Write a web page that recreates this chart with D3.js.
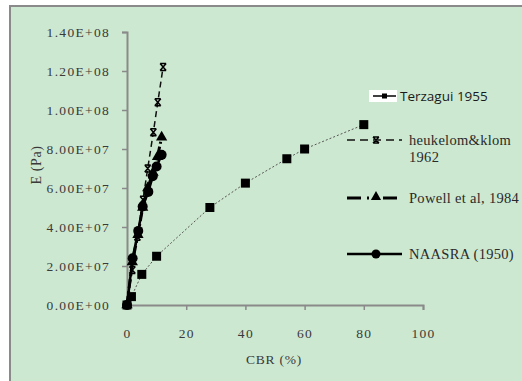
<!DOCTYPE html>
<html>
<head>
<meta charset="utf-8">
<script src="https://cdn.jsdelivr.net/npm/d3@7"></script>
<style>
  body { margin: 0; background: #fff; }
  svg { display: block; }
</style>
</head>
<body>
<svg id="chart" width="522" height="381"></svg>
<script>
// values
const terzaghiCbr = [0, 1.5, 5, 10, 28, 40, 54, 60, 80];
const terzaghiE = [0, 4.3e6, 1.57e7, 2.5e7, 5.0e7, 6.25e7, 7.5e7, 8.0e7, 9.25e7];
const heukelomCbr = [0, 1.8, 3.5, 5.4, 7.0, 8.9, 10.4, 12.2];
const heukelomE = [0, 1.8e7, 3.5e7, 5.4e7, 7.0e7, 8.86e7, 1.04e8, 1.22e8];
const powellCbr = [0, 1.8, 3.7, 5.3, 7.0, 8.8, 10.3, 11.7];
const powellE = [0, 2.2e7, 3.6e7, 5.0e7, 6.0e7, 6.8e7, 7.6e7, 8.6e7];
const naasraCbr = [0, 1.9, 3.8, 5.3, 7.2, 8.7, 10.0, 11.7];
const naasraE = [0, 2.4e7, 3.8e7, 5.05e7, 5.8e7, 6.6e7, 7.1e7, 7.7e7];
const xTicks = [0, 20, 40, 60, 80, 100];
const yTicks = [0, 2e7, 4e7, 6e7, 8e7, 1e8, 1.2e8, 1.4e8];
const seriesNames = ['Terzagui 1955', 'heukelom&klom|1962', 'Powell et al, 1984', 'NAASRA (1950)'];

const svg = d3.select('#chart');
const serif = "'Liberation Serif', 'Times New Roman', serif";
const sans = "'Open Sans', 'Liberation Sans', sans-serif";

// frame
svg.append('rect').attr('x', 10).attr('y', 6).attr('width', 530).attr('height', 400)
  .attr('fill', '#cde8d0').attr('stroke', '#8a8a8a').attr('stroke-width', 2);

const x = d3.scaleLinear().domain([0, 100]).range([127, 423]);
const y = d3.scaleLinear().domain([0, 1.4e8]).range([305, 32]);

function sci(d) {
  if (d === 0) return '0.00E+00';
  const e = Math.floor(Math.log10(d) + 1e-9);
  return (d / Math.pow(10, e)).toFixed(2) + 'E+' + String(e).padStart(2, '0');
}

const yAxis = svg.append('g').attr('transform', 'translate(127,0)')
  .call(d3.axisLeft(y).tickValues(yTicks).tickFormat(sci).tickSize(5).tickPadding(12));
const xAxis = svg.append('g').attr('transform', 'translate(0,305)')
  .call(d3.axisBottom(x).tickValues(xTicks).tickSize(5).tickPadding(18));

[yAxis, xAxis].forEach(function(a) {
  a.select('.domain').attr('stroke', '#8a8a8a').attr('stroke-width', 2);
  a.selectAll('.tick line').attr('stroke', '#8a8a8a').attr('stroke-width', 1.5);
  a.selectAll('.tick text').attr('fill', '#3a3a3a').attr('font-family', serif)
    .attr('font-size', 13.5).style('letter-spacing', '1.3px');
});

svg.append('text').attr('transform', 'translate(41,165) rotate(-90)')
  .attr('text-anchor', 'middle').attr('font-family', serif).attr('font-size', 14)
  .attr('fill', '#3a3a3a').style('letter-spacing', '0.6px').text('E (Pa)');
svg.append('text').attr('x', 274).attr('y', 364)
  .attr('text-anchor', 'middle').attr('font-family', serif).attr('font-size', 13.5)
  .attr('fill', '#3a3a3a').style('letter-spacing', '0.8px').text('CBR (%)');

function pts(xs, ys) { return xs.map(function(v, i) { return [v, ys[i]]; }); }
const line = d3.line().x(function(d) { return x(d[0]); }).y(function(d) { return y(d[1]); });

const xMark = 'M-3,-3.5L3,3.5M3,-3.5L-3,3.5M-3,-3.5H3M-3,3.5H3';

// Terzagui
const tz = pts(terzaghiCbr, terzaghiE);
svg.append('path').datum(tz).attr('d', line).attr('fill', 'none')
  .attr('stroke', '#555').attr('stroke-width', 1).attr('stroke-dasharray', '2,2');
svg.append('g').selectAll('rect').data(tz).enter().append('rect')
  .attr('x', function(d) { return x(d[0]) - 4.5; })
  .attr('y', function(d) { return y(d[1]) - 4.5; })
  .attr('width', 9).attr('height', 9).attr('fill', '#000');

// heukelom & klom
const hk = pts(heukelomCbr, heukelomE);
svg.append('path').datum(hk).attr('d', line).attr('fill', 'none')
  .attr('stroke', '#111').attr('stroke-width', 1.5).attr('stroke-dasharray', '6,4');
svg.append('g').selectAll('path').data(hk).enter().append('path')
  .attr('transform', function(d) { return `translate(${x(d[0])},${y(d[1])})`; })
  .attr('d', xMark).attr('fill', 'none').attr('stroke', '#000').attr('stroke-width', 1.5);

// Powell
const pw = pts(powellCbr, powellE);
svg.append('path').datum(pw).attr('d', line).attr('fill', 'none')
  .attr('stroke', '#000').attr('stroke-width', 3).attr('stroke-dasharray', '9,3,2,3');
svg.append('g').selectAll('path').data(pw).enter().append('path')
  .attr('transform', function(d) { return `translate(${x(d[0])},${y(d[1])})`; })
  .attr('d', d3.symbol().type(d3.symbolTriangle).size(55)).attr('fill', '#000');

// NAASRA
const na = pts(naasraCbr, naasraE);
svg.append('path').datum(na).attr('d', line).attr('fill', 'none')
  .attr('stroke', '#000').attr('stroke-width', 2.5);
svg.append('g').selectAll('circle').data(na).enter().append('circle')
  .attr('cx', function(d) { return x(d[0]); })
  .attr('cy', function(d) { return y(d[1]); })
  .attr('r', 5).attr('fill', '#000');

// legend
const legend = svg.append('g');
legend.append('rect').attr('x', 369).attr('y', 90).attr('width', 28).attr('height', 12).attr('fill', '#fff');
legend.append('line').attr('x1', 373).attr('x2', 396).attr('y1', 96).attr('y2', 96)
  .attr('stroke', '#000').attr('stroke-width', 1.5);
legend.append('rect').attr('x', 382).attr('y', 93.5).attr('width', 5).attr('height', 5).attr('fill', '#000');
legend.append('text').attr('x', 400).attr('y', 101).attr('font-family', sans).attr('font-size', 13.5)
  .attr('fill', '#1a1a1a').text(seriesNames[0]);

legend.append('line').attr('x1', 347).attr('x2', 402).attr('y1', 140).attr('y2', 140)
  .attr('stroke', '#111').attr('stroke-width', 1.5).attr('stroke-dasharray', '8,5');
legend.append('path').attr('transform', 'translate(376,140)').attr('d', 'M-3,-3L3,3M3,-3L-3,3M-3,-3H3M-3,3H3')
  .attr('fill', 'none').attr('stroke', '#000').attr('stroke-width', 1.5);
const hkText = legend.append('text').attr('x', 409).attr('y', 145).attr('font-family', serif)
  .attr('font-size', 14.5).attr('fill', '#2a2a2a').style('letter-spacing', '0.3px');
seriesNames[1].split('|').forEach(function(s, i) {
  hkText.append('tspan').attr('x', 409).attr('dy', i ? 17 : 0).text(s);
});

legend.append('line').attr('x1', 347).attr('x2', 402).attr('y1', 198).attr('y2', 198)
  .attr('stroke', '#000').attr('stroke-width', 3).attr('stroke-dasharray', '14,6,2,14');
legend.append('path').attr('transform', 'translate(376,197)')
  .attr('d', d3.symbol().type(d3.symbolTriangle).size(45)).attr('fill', '#000');
legend.append('text').attr('x', 409).attr('y', 203).attr('font-family', serif)
  .attr('font-size', 14.5).attr('fill', '#2a2a2a').style('letter-spacing', '0.3px').text(seriesNames[2]);

legend.append('line').attr('x1', 347).attr('x2', 402).attr('y1', 254).attr('y2', 254)
  .attr('stroke', '#000').attr('stroke-width', 2.5);
legend.append('circle').attr('cx', 376).attr('cy', 254).attr('r', 4.5).attr('fill', '#000');
legend.append('text').attr('x', 409).attr('y', 259).attr('font-family', serif)
  .attr('font-size', 14.5).attr('fill', '#2a2a2a').style('letter-spacing', '0.3px').text(seriesNames[3]);
</script>
</body>
</html>
